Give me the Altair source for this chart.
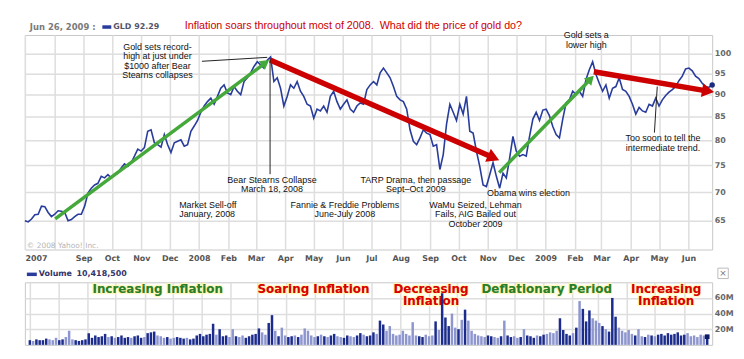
import math
import pandas as pd
import altair as alt

# ---------------- data ----------------
START, END = "2007-07-01", "2009-06-26"

price = [65.0, 64.8, 65.3, 66.0, 66.1, 67.5, 67.4, 66.4, 65.7, 66.1,
         66.7, 66.6, 66.4, 65.0, 65.2, 65.7, 66.1, 66.1, 67.5, 69.8,
         70.7, 71.3, 71.6, 72.9, 72.6, 73.2, 72.6, 73.2, 73.5, 74.5,
         75.3, 74.8, 75.5, 76.8, 78.2, 77.8, 78.5, 81.9, 82.2, 79.5,
         79.1, 78.6, 81.2, 79.1, 77.5, 79.5, 79.8, 80.1, 78.8, 79.1,
         81.9, 83.0, 84.2, 86.0, 87.4, 88.4, 89.2, 87.8, 89.6, 91.5,
         92.3, 90.4, 90.0, 91.9, 90.8, 90.0, 93.1, 94.0, 95.2, 96.8,
         98.0, 97.2, 96.4, 98.4, 99.2, 93.1, 94.0, 91.5, 87.4, 89.6,
         92.3, 91.5, 93.1, 90.8, 89.6, 87.8, 87.4, 84.7, 86.7, 86.3,
         87.4, 86.0, 89.6, 90.8, 88.4, 86.7, 87.8, 88.8, 86.7, 86.0,
         87.4, 88.1, 87.8, 91.2, 92.3, 93.1, 92.3, 95.2, 96.4, 95.2,
         94.0, 91.9, 89.6, 88.8, 88.4, 86.7, 82.2, 79.8, 79.1, 80.5,
         82.2, 81.5, 81.2, 78.8, 79.1, 74.2, 77.1, 83.4, 87.8, 86.0,
         84.2, 87.8, 85.6, 89.6, 81.9, 81.5, 77.8, 74.8, 71.3, 71.0,
         73.2, 75.5, 72.9, 70.7, 73.5, 72.6, 76.4, 80.8, 77.8, 76.8,
         77.1, 76.8, 80.8, 84.5, 86.0, 84.2, 86.5, 86.7, 85.2, 82.9,
         81.2, 80.5, 84.5, 88.1, 88.8, 90.8, 90.0, 90.8, 89.6, 93.6,
         96.0, 98.0, 94.8, 92.7, 90.8, 92.3, 89.2, 91.5, 91.9, 94.0,
         91.2, 90.8, 89.6, 87.8, 85.6, 87.1, 86.3, 86.0, 87.8, 87.4,
         89.2, 87.4, 88.8, 89.8, 90.6, 91.2, 91.9, 93.3, 94.4, 96.2,
         96.4, 95.7, 94.4, 93.8, 92.7, 91.9, 91.7, 92.29]

volume_m = [6, 5, 7, 6, 6, 8, 7, 6, 9, 6,
            7, 10, 18, 7, 6, 5, 6, 7, 15, 9,
            12, 10, 11, 14, 10, 11, 9, 10, 12, 9,
            10, 9, 11, 12, 9, 10, 15, 16, 17, 12,
            11, 9, 10, 8, 9, 10, 9, 8, 9, 7,
            8, 12, 14, 11, 13, 14, 27, 13, 20, 11,
            12, 10, 20, 11, 10, 12, 9, 11, 13, 14,
            21, 16, 13, 28, 38, 18, 11, 22, 12, 10,
            11, 12, 10, 13, 21, 18, 12, 10, 11, 13,
            11, 10, 12, 14, 11, 10, 9, 12, 11, 10,
            12, 15, 13, 11, 12, 16, 14, 31, 26, 18,
            24, 14, 12, 13, 18, 14, 12, 29, 12, 11,
            10, 13, 11, 12, 30, 19, 66, 35, 24, 40,
            22, 20, 32, 45, 31, 18, 14, 12, 11, 10,
            12, 11, 10, 9, 11, 31, 12, 10, 11, 9,
            10, 20, 12, 11, 9, 12, 11, 13, 14, 16,
            15, 18, 34, 19, 14, 12, 15, 22, 56, 46,
            30, 44, 34, 31, 28, 24, 20, 17, 60, 36,
            22, 18, 16, 19, 14, 12, 20, 11, 10, 13,
            12, 11, 13, 14, 12, 15, 13, 14, 16, 12,
            13, 15, 11, 12, 10, 13, 12, 10.4185]

y_ticks = [65, 70, 75, 80, 85, 90, 95, 100]
vol_ticks = [20e6, 40e6, 60e6]

# arrows: start date, start price, tip date, tip price, colour, width, head size
GREEN, RED = "#45a83a", "#cc0000"
arrows = [
    ("2007-08-02", 65.3, "2008-03-15", 98.4, GREEN, 3.5, 110),
    ("2008-03-16", 98.4, "2008-11-13", 76.0, RED, 5.5, 200),
    ("2008-11-13", 73.6, "2009-02-21", 94.5, GREEN, 3.5, 110),
    ("2009-02-21", 95.5, "2009-06-28", 90.6, RED, 5.5, 200),
]
callouts = [
    ("2008-01-04", 98.1, "2008-03-13", 99.1),
    ("2008-03-16", 98.7, "2008-03-16", 73.3),
    ("2009-04-29", 91.9, "2009-04-26", 81.6),
]
notes_center = [
    ("Gold sets record-", "2007-11-18", 101.8),
    ("high at just under", "2007-11-18", 99.4),
    ("$1000 after Bear", "2007-11-18", 97.0),
    ("Stearns collapses", "2007-11-18", 94.8),
    ("Bear Stearns Collapse", "2008-03-18", 72.2),
    ("March 18, 2008", "2008-03-18", 70.5),
    ("Fannie & Freddie Problems", "2008-06-03", 67.7),
    ("June-July 2008", "2008-06-03", 66.1),
    ("TARP Drama, then passage", "2008-08-17", 72.2),
    ("Sept\u2013Oct 2009", "2008-08-17", 70.5),
    ("WaMu Seized, Lehman", "2008-10-19", 67.7),
    ("Fails, AIG Bailed out", "2008-10-19", 66.1),
    ("October 2009", "2008-10-19", 64.5),
    ("Obama wins election", "2008-12-14", 69.9),
    ("Gold sets a", "2009-02-13", 104.9),
    ("lower high", "2009-02-13", 102.3),
    ("Too soon to tell the", "2009-05-05", 80.4),
    ("intermediate trend.", "2009-05-05", 78.5),
]
notes_left = [
    ("Market Sell-off", "2007-12-11", 67.7),
    ("January, 2008", "2007-12-11", 66.1),
]
DKGREEN, BRED = "#2a7d2a", "#d80000"
phases = [
    ("Increasing Inflation", "2007-11-15", 71.8e6, DKGREEN),
    ("Soaring Inflation", "2008-04-30", 71.8e6, BRED),
    ("Decreasing", "2008-09-03", 71.8e6, BRED),
    ("Inflation", "2008-09-03", 55.7e6, BRED),
    ("Deflationary Period", "2009-01-05", 71.8e6, DKGREEN),
    ("Increasing", "2009-05-13", 71.8e6, BRED),
    ("Inflation", "2009-05-13", 55.7e6, BRED),
]

# ---------------- layout constants ----------------
W, H, VH = 692, 216, 63
YMIN, YMAX = 60.35, 104.99
BLUE = "#283c9c"

N = len(price)
dates = pd.date_range(START, END, periods=N)
df = pd.DataFrame({
    "date": [d.strftime("%Y-%m-%dT%H:%M:%SZ") for d in dates],
    "price": price,
    "vol": [v * 1e6 for v in volume_m],
    "shade": ["#1c2c8c" if i == 0 or price[i] >= price[i - 1] else "#8d96cf" for i in range(N)],
})


def to_ms(s):
    return pd.Timestamp(s).value / 1e6


T0, T1 = to_ms(START), to_ms(END)
LMAX, LMIN = math.log(YMAX), math.log(YMIN)


def px(s):
    return (to_ms(s) - T0) / (T1 - T0) * W


def py(p):
    return H * (LMAX - math.log(p)) / (LMAX - LMIN)


def from_px(x, y):
    t = T0 + x / W * (T1 - T0)
    d = pd.Timestamp(t, unit="ms").strftime("%Y-%m-%dT%H:%M:%SZ")
    return d, math.exp(LMAX - y / H * (LMAX - LMIN))


rule_rows, head_rows = [], []
for d1, p1, d2, p2, c, w, s in arrows:
    x1, y1, x2, y2 = px(d1), py(p1), px(d2), py(p2)
    L = math.hypot(x2 - x1, y2 - y1)
    ux, uy = (x2 - x1) / L, (y2 - y1) / L
    h = 0.433 * math.sqrt(s)
    cd, cp = from_px(x2 - ux * h, y2 - uy * h)
    rule_rows.append({"d1": d1, "p1": p1, "d2": cd, "p2": cp, "c": c, "w": w})
    head_rows.append({"date": cd, "price": cp, "c": c, "s": s,
                      "a": math.degrees(math.atan2(ux, -uy)) % 360})
rules_df = pd.DataFrame(rule_rows)
heads_df = pd.DataFrame(head_rows)
call_df = pd.DataFrame(callouts, columns=["d1", "p1", "d2", "p2"])
nc_df = pd.DataFrame(notes_center, columns=["text", "date", "price"])
nl_df = pd.DataFrame(notes_left, columns=["text", "date", "price"])
ph_df = pd.DataFrame(phases, columns=["text", "date", "vol", "c"])

months = [(y, m) for y in (2007, 2008, 2009) for m in range(1, 13)
          if (2007, 7) <= (y, m) <= (2009, 6)]
month_ticks = [alt.DateTime(year=y, month=m, date=1, utc=True) for y, m in months]

xscale = alt.Scale(type="utc", nice=False,
                   domain=[alt.DateTime(year=2007, month=7, date=1, utc=True),
                           alt.DateTime(year=2009, month=6, date=26, utc=True)])
yscale = alt.Scale(type="log", domain=[YMIN, YMAX], nice=False)
vscale = alt.Scale(domain=[0, 80e6], nice=False, zero=True)

label_expr = ("utcmonth(datum.value) == 0 ? utcFormat(datum.value, '%Y') : "
              "(utcyear(datum.value) == 2007 && utcmonth(datum.value) == 6 ? '2007' : "
              "(utcyear(datum.value) == 2007 && utcmonth(datum.value) == 7 ? '' : "
              "utcFormat(datum.value, '%b')))")

xaxis_main = alt.Axis(values=month_ticks, labelExpr=label_expr, grid=True, ticks=False,
                      tickSize=0, domain=False, labelPadding=5, labelFont="DejaVu Sans",
                      labelFontSize=8, labelFontWeight="bold", labelColor="#555555",
                      labelFlush=True, labelOverlap=False, title=None)
yaxis_main = alt.Axis(orient="right", values=y_ticks, grid=True, ticks=False, tickSize=0,
                      domain=False, labelPadding=2, labelFont="DejaVu Sans", labelFontSize=8,
                      labelFontWeight="bold", labelColor="#666666", format="d", title=None)
xaxis_vol = alt.Axis(values=month_ticks, grid=True, labels=False, ticks=False, tickSize=0,
                     domain=False, title=None)
yaxis_vol = alt.Axis(orient="right", values=vol_ticks, grid=True, ticks=False, tickSize=0,
                     domain=False, labelPadding=2, labelFont="DejaVu Sans", labelFontSize=8,
                     labelFontWeight="bold", labelColor="#666666",
                     labelExpr="(datum.value / 1000000) + 'M'", title=None)

one = pd.DataFrame({"k": [0]})


def label(text, x, y, **kw):
    opts = dict(align="left", baseline="middle")
    opts.update(kw)
    return alt.Chart(one).mark_text(text=text, **opts).encode(x=alt.value(x), y=alt.value(y))


# every layer carries the same axis definition so that the merged axis keeps it
X = lambda f: alt.X(f, scale=xscale, axis=xaxis_main)
Y = lambda f: alt.Y(f, scale=yscale, axis=yaxis_main)

line = alt.Chart(df).mark_line(color=BLUE, strokeWidth=1.6).encode(
    x=X("date:T"), y=Y("price:Q"))
endpt = alt.Chart(df.tail(1)).mark_circle(size=30, color="#1d2b80", opacity=1).encode(
    x=X("date:T"), y=Y("price:Q"))
arrow_lines = alt.Chart(rules_df).mark_rule().encode(
    x=X("d1:T"), y=Y("p1:Q"), x2=alt.X2("d2"), y2=alt.Y2("p2"),
    color=alt.Color("c:N", scale=None), strokeWidth=alt.StrokeWidth("w:Q", scale=None))
heads = alt.Chart(heads_df).mark_point(shape="triangle-up", filled=True, opacity=1,
                                        strokeWidth=0).encode(
    x=X("date:T"), y=Y("price:Q"), color=alt.Color("c:N", scale=None),
    size=alt.Size("s:Q", scale=None), angle=alt.Angle("a:Q", scale=None))
call_lines = alt.Chart(call_df).mark_rule(color="#222222", strokeWidth=1).encode(
    x=X("d1:T"), y=Y("p1:Q"), x2=alt.X2("d2"), y2=alt.Y2("p2"))
ann_c = alt.Chart(nc_df).mark_text(font="Liberation Sans", fontSize=9, color="#111111",
                                   align="center", baseline="middle").encode(
    x=X("date:T"), y=Y("price:Q"), text="text:N")
ann_l = alt.Chart(nl_df).mark_text(font="Liberation Sans", fontSize=9, color="#111111",
                                   align="left", baseline="middle").encode(
    x=X("date:T"), y=Y("price:Q"), text="text:N")

hdr_date = label("Jun 26, 2009 :", 5, -8, font="DejaVu Sans", fontSize=8.5,
                 fontWeight="bold", color="#7a7a7a")
hdr_sw = alt.Chart(one).mark_rule(color=BLUE, strokeWidth=3.5).encode(
    x=alt.value(78), x2=alt.value(87), y=alt.value(-8))
hdr_gld = label("GLD 92.29", 89, -8, font="DejaVu Sans", fontSize=8, fontWeight="bold",
                color="#55556a")
hdr_title = label("Inflation soars throughout most of 2008.\u00a0 What did the price of gold do?",
                  161, -9, font="Liberation Sans", fontSize=10.8, color="#cc0000")
copyr = label("\u00a9 2008 Yahoo! Inc.", 2, 212, font="DejaVu Sans", fontSize=7.5,
              color="#b5b5b5")

main = alt.layer(line, arrow_lines, heads, endpt, call_lines, ann_c, ann_l,
                 hdr_date, hdr_sw, hdr_gld, hdr_title, copyr).properties(width=W, height=H)

# ---------------- volume panel ----------------
VX = lambda f: alt.X(f, scale=xscale, axis=xaxis_vol)
VY = lambda f: alt.Y(f, scale=vscale, axis=yaxis_vol)
ph_halo = alt.Chart(ph_df).mark_text(font="DejaVu Sans", fontSize=12, fontWeight="bold",
                                     stroke="#fff7b0", strokeWidth=2.5, strokeOpacity=0.8,
                                     baseline="middle").encode(
    x=VX("date:T"), y=VY("vol:Q"), text="text:N", color=alt.Color("c:N", scale=None))
ph_text = alt.Chart(ph_df).mark_text(font="DejaVu Sans", fontSize=12, fontWeight="bold",
                                     baseline="middle").encode(
    x=VX("date:T"), y=VY("vol:Q"), text="text:N", color=alt.Color("c:N", scale=None))
bars = alt.Chart(df).mark_bar(size=2.5).encode(
    x=VX("date:T"),
    y=alt.Y("vol:Q", scale=vscale, axis=yaxis_vol, stack=None),
    color=alt.Color("shade:N", scale=None))
last_vol = alt.Chart(df.tail(1)).mark_point(shape="square", filled=True, size=22,
                                             color="#0d1a66", opacity=1).encode(
    x=VX("date:T"), y=VY("vol:Q"))
vol_sw = alt.Chart(one).mark_rule(color=BLUE, strokeWidth=3.5).encode(
    x=alt.value(2), x2=alt.value(12), y=alt.value(-8))
vol_lbl = label("Volume", 14, -8, font="DejaVu Sans", fontSize=8, fontWeight="bold",
                color="#33336a")
vol_num = label("10,418,500", 52, -8, font="DejaVu Sans", fontSize=8, fontWeight="bold",
                color="#33336a")
close_box = alt.Chart(one).mark_point(shape="square", filled=False, size=110,
                                       color="#a0a0a0", strokeWidth=1).encode(
    x=alt.value(703), y=alt.value(-9))
close_x = label("\u00d7", 703, -9, align="center", font="DejaVu Sans", fontSize=9,
                color="#777777")

vol = alt.layer(ph_halo, ph_text, bars, last_vol, vol_sw, vol_lbl, vol_num,
                close_box, close_x).properties(width=W, height=VH)

chart = alt.vconcat(main, vol, spacing=2).properties(
    padding={"left": 13, "top": 10, "right": 2, "bottom": 2}
).configure_axis(gridColor="#dedede", gridWidth=1.5).configure_view(stroke="#c8c8c8")

chart.save("out.html", embed_options={"renderer": "svg", "actions": False})
